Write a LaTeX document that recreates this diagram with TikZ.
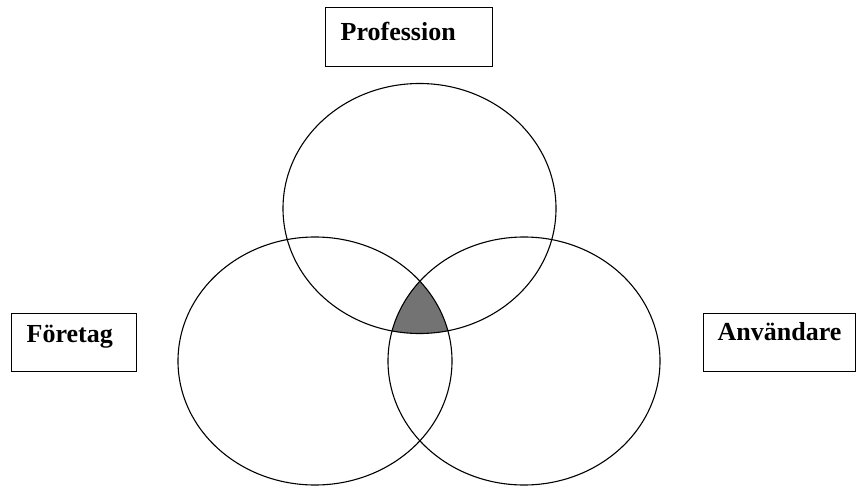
\documentclass[tikz,border=0pt]{standalone}
\usepackage{fontspec}
\setmainfont{Liberation Serif}
\usepackage{tikz}
\usetikzlibrary{positioning}
\tikzset{
    box_label/.style={rectangle, draw, line width=1.3pt, anchor=north west, align=left, inner xsep=15pt, inner ysep=0pt, font=\bfseries\fontsize{26}{30}\selectfont},
    ring/.style={draw, line width=1.1pt},
    overlap/.style={fill=black!55}
}
\begin{document}
\begin{tikzpicture}[x=1pt, y=-1pt]
    \useasboundingbox (0,0) rectangle (858,489);
    % shaded part common to all three
    \begin{scope}
        \clip (419.5,208.5) ellipse [x radius=136.5pt, y radius=125pt];
        \clip (315,361) ellipse [x radius=137pt, y radius=124pt];
        \fill[overlap] (524,361) ellipse [x radius=136pt, y radius=124pt];
    \end{scope}
    \draw[ring] (419.5,208.5) ellipse [x radius=136.5pt, y radius=125pt];
    \draw[ring] (315,361) ellipse [x radius=137pt, y radius=124pt];
    \draw[ring] (524,361) ellipse [x radius=136pt, y radius=124pt];

    \node (profession) [box_label, text width=137pt, text height=33pt, text depth=26pt] at (325,7) {Profession};
    \node (foretag) [box_label, text width=95pt, text height=29pt, text depth=29pt] at (11,313) {Företag};
    \node (anvandare) [box_label, inner xsep=14pt, text width=124pt, text height=27pt, text depth=31pt] at (703,313) {Användare};
\end{tikzpicture}
\end{document}
